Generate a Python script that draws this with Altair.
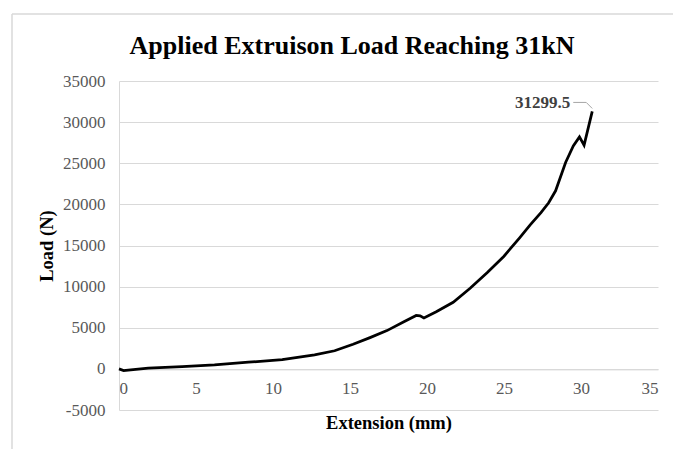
import altair as alt
import pandas as pd

# Data
extension_mm = [0, 0.3, 0.6, 1.9, 4.1, 6.2, 8.4, 10.6, 12.7, 14.0, 15.2, 16.3, 17.4,
                18.5, 19.3, 19.55, 19.8, 20.6, 21.7, 22.8, 23.9, 25.0, 26.0, 26.7,
                27.4, 27.9, 28.35, 29.0, 29.5, 29.9, 30.2, 30.73]
load_n = [0, -200, -150, 80, 280, 490, 810, 1130, 1700, 2200, 3000, 3800, 4650,
          5740, 6500, 6450, 6200, 6950, 8100, 9800, 11700, 13700, 15900, 17500,
          19000, 20200, 21650, 25100, 27100, 28200, 27200, 31299.5]
peak_label = ["31299.5"]
x_ticks = [0, 5, 10, 15, 20, 25, 30, 35]
y_ticks = [-5000, 0, 5000, 10000, 15000, 20000, 25000, 30000, 35000]
chart_title = ["Applied Extruison Load Reaching 31kN"]

df = pd.DataFrame({"ext": extension_mm, "load": load_n})
peak = pd.DataFrame({"ext": [extension_mm[-1]], "load": [load_n[-1]], "label": peak_label})
dummy = pd.DataFrame({"a": [0]})
title_df = pd.DataFrame({"t": chart_title})

SERIF = "Liberation Serif"
GRID = "#d9d9d9"

xscale = alt.Scale(domain=[0, 35], nice=False, zero=False)
yscale = alt.Scale(domain=[-5000, 35000], nice=False, zero=False)

line = alt.Chart(df).mark_line(color="black", strokeWidth=2.75, clip=False).encode(
    x=alt.X("ext:Q", scale=xscale, title="Extension (mm)",
            axis=alt.Axis(values=x_ticks, grid=False, ticks=False, offset=-40.6,
                          domain=True, domainColor=GRID, labelFont=SERIF,
                          labelExpr="'' + datum.value",
                          labelFontSize=17, labelColor="#595959", labelPadding=11,
                          titleFont=SERIF, titleFontSize=18.5, titleFontWeight="bold",
                          titleColor="black", titlePadding=17)),
    y=alt.Y("load:Q", scale=yscale, title="Load (N)",
            axis=alt.Axis(values=y_ticks, grid=True, gridColor=GRID, ticks=False,
                          domain=True, domainColor=GRID, labelFont=SERIF,
                          labelExpr="'' + datum.value",
                          labelFontSize=17, labelColor="#595959", labelPadding=14,
                          titleFont=SERIF, titleFontSize=18.5, titleFontWeight="bold",
                          titleColor="black", titlePadding=6)),
)

label = alt.Chart(peak).mark_text(font=SERIF, fontSize=17, fontWeight="bold",
                                  color="#404040", align="right", baseline="middle",
                                  dx=-22, dy=-8).encode(
    x=alt.X("ext:Q", scale=xscale), y=alt.Y("load:Q", scale=yscale), text="label:N")

leader_h = alt.Chart(peak).mark_rule(color="#a6a6a6", strokeWidth=1,
                                     xOffset=-19, x2Offset=-6,
                                     yOffset=-9, y2Offset=-9).encode(
    x=alt.X("ext:Q", scale=xscale), x2="ext:Q",
    y=alt.Y("load:Q", scale=yscale), y2="load:Q")

leader_d = alt.Chart(peak).mark_rule(color="#a6a6a6", strokeWidth=1,
                                     xOffset=-6, x2Offset=0,
                                     yOffset=-9, y2Offset=-3).encode(
    x=alt.X("ext:Q", scale=xscale), x2="ext:Q",
    y=alt.Y("load:Q", scale=yscale), y2="load:Q")

# chart-area border (Excel style), partially cut off at right/bottom
border_left = alt.Chart(dummy).mark_rule(color=GRID, strokeWidth=1.5, clip=False).encode(
    x=alt.value(-107), y=alt.value(-67), y2=alt.value(380))
border_top = alt.Chart(dummy).mark_rule(color=GRID, strokeWidth=1.5, clip=False).encode(
    x=alt.value(-107), x2=alt.value(570), y=alt.value(-67))

title = alt.Chart(title_df).mark_text(font=SERIF, fontSize=26, fontWeight="bold",
                                      color="black", align="center",
                                      baseline="alphabetic").encode(
    x=alt.value(233), y=alt.value(-27), text="t:N")

chart = alt.layer(border_left, border_top, line, leader_h, leader_d, label, title).properties(
    width=539, height=329,
    autosize=alt.AutoSizeParams(type="none"),
    padding={"left": 119, "top": 81, "right": 15, "bottom": 39},
    background="white",
).configure_view(stroke=None)

chart.save("out.html", embed_options={"renderer": "svg", "actions": False})
